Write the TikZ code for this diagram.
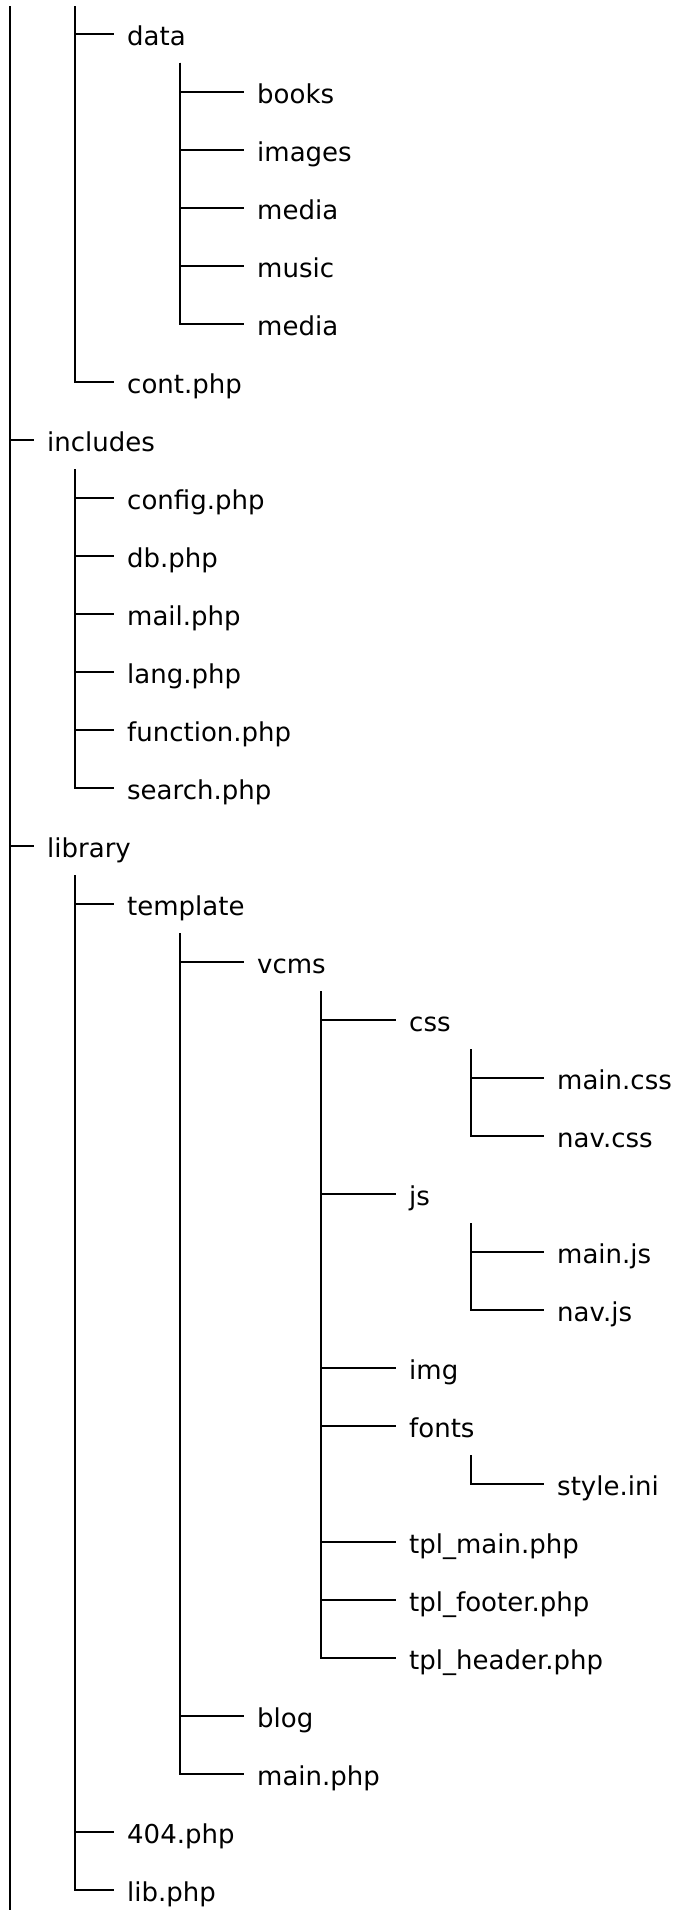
\documentclass[tikz,border=0pt]{standalone}
\usepackage{fontspec}
\setmainfont{DejaVu Sans}

\begin{document}
\begin{tikzpicture}[x=1pt, y=-58pt]
	\tikzset{item/.style =
		{anchor = west,
			inner xsep = 0pt,
			inner ysep = 0pt,
			text height = 23pt,
			text depth = 0pt,
			font = \fontsize{26}{30}\selectfont},
		link/.style = {line width = 2pt, shorten > = 13pt}}
	\useasboundingbox (0,-0.58621) rectangle (677,32.3448);
	% trunks
	\coordinate (root-t) at (10,-0.48); \coordinate (root-b) at (10,32.3448);
	\coordinate (top-t) at (75,-0.48);
	\coordinate (data-t) at (180,0.5);
	\coordinate (includes-t) at (75,7.5);
	\coordinate (library-t) at (75,14.5);
	\coordinate (template-t) at (180,15.5);
	\coordinate (vcms-t) at (321,16.5);
	\coordinate (css-t) at (471,17.5);
	\coordinate (js-t) at (471,20.5);
	\coordinate (fonts-t) at (471,24.5);
	% entries
	\node[item] (data) at (127,0) {data};
	\node[item] (books) at (257,1) {books};
	\node[item] (images) at (257,2) {images};
	\node[item] (media1) at (257,3) {media};
	\node[item] (music) at (257,4) {music};
	\node[item] (media2) at (257,5) {media};
	\node[item] (cont) at (127,6) {cont.php};
	\node[item] (includes) at (47,7) {includes};
	\node[item] (config) at (127,8) {config.php};
	\node[item] (db) at (127,9) {db.php};
	\node[item] (mail) at (127,10) {mail.php};
	\node[item] (lang) at (127,11) {lang.php};
	\node[item] (function) at (127,12) {function.php};
	\node[item] (search) at (127,13) {search.php};
	\node[item] (library) at (47,14) {library};
	\node[item] (template) at (127,15) {template};
	\node[item] (vcms) at (257,16) {vcms};
	\node[item] (css) at (409,17) {css};
	\node[item] (maincss) at (557,18) {main.css};
	\node[item] (navcss) at (557,19) {nav.css};
	\node[item] (js) at (409,20) {js};
	\node[item] (mainjs) at (557,21) {main.js};
	\node[item] (navjs) at (557,22) {nav.js};
	\node[item] (img) at (409,23) {img};
	\node[item] (fonts) at (409,24) {fonts};
	\node[item] (styleini) at (557,25) {style.ini};
	\node[item] (tplmain) at (409,26) {tpl\_main.php};
	\node[item] (tplfooter) at (409,27) {tpl\_footer.php};
	\node[item] (tplheader) at (409,28) {tpl\_header.php};
	\node[item] (blog) at (257,29) {blog};
	\node[item] (mainphp) at (257,30) {main.php};
	\node[item] (err404) at (127,31) {404.php};
	\node[item] (lib) at (127,32) {lib.php};
	% connectors
	\draw[line width = 2pt] (root-t) -- (root-b);
	\draw[link] (root-t) |- (includes);
	\draw[link] (root-t) |- (library);
	\draw[link] (top-t) |- (data);
	\draw[link] (top-t) |- (cont);
	\draw[link] (data-t) |- (books);
	\draw[link] (data-t) |- (images);
	\draw[link] (data-t) |- (media1);
	\draw[link] (data-t) |- (music);
	\draw[link] (data-t) |- (media2);
	\draw[link] (includes-t) |- (config);
	\draw[link] (includes-t) |- (db);
	\draw[link] (includes-t) |- (mail);
	\draw[link] (includes-t) |- (lang);
	\draw[link] (includes-t) |- (function);
	\draw[link] (includes-t) |- (search);
	\draw[link] (library-t) |- (template);
	\draw[link] (library-t) |- (err404);
	\draw[link] (library-t) |- (lib);
	\draw[link] (template-t) |- (vcms);
	\draw[link] (template-t) |- (blog);
	\draw[link] (template-t) |- (mainphp);
	\draw[link] (vcms-t) |- (css);
	\draw[link] (vcms-t) |- (js);
	\draw[link] (vcms-t) |- (img);
	\draw[link] (vcms-t) |- (fonts);
	\draw[link] (vcms-t) |- (tplmain);
	\draw[link] (vcms-t) |- (tplfooter);
	\draw[link] (vcms-t) |- (tplheader);
	\draw[link] (css-t) |- (maincss);
	\draw[link] (css-t) |- (navcss);
	\draw[link] (js-t) |- (mainjs);
	\draw[link] (js-t) |- (navjs);
	\draw[link] (fonts-t) |- (styleini);
\end{tikzpicture}
\end{document}
